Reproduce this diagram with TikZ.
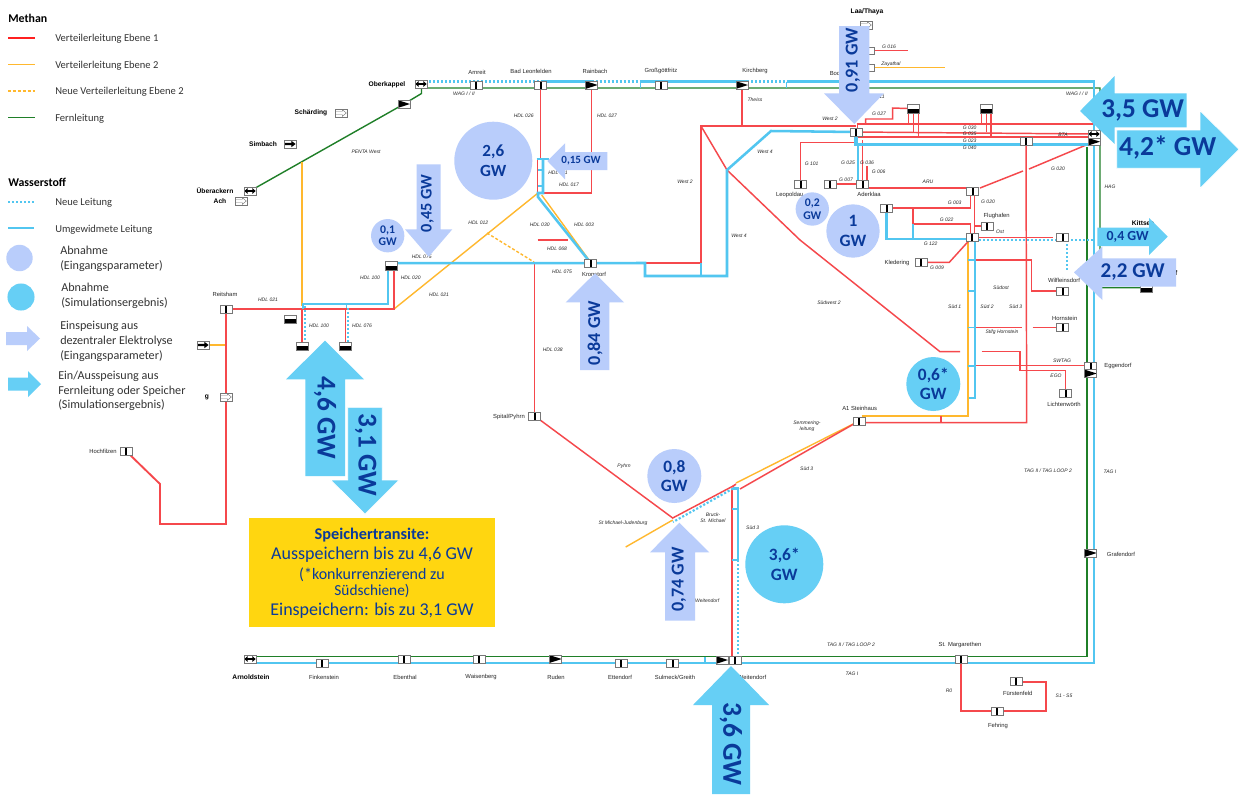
\documentclass[tikz,border=0pt]{standalone}
\usepackage{fontspec}
\setmainfont{Liberation Sans}
\newfontfamily\cbr{Carlito}
\usetikzlibrary{calc}
\definecolor{rd}{HTML}{F5484C}
\definecolor{legrd}{HTML}{FF2020}
\definecolor{yl}{HTML}{FFB82E}
\definecolor{gn}{HTML}{1F7F28}
\definecolor{bl}{HTML}{52C6F0}
\definecolor{lb}{HTML}{B9CDFB}
\definecolor{sk}{HTML}{66CFF5}
\definecolor{db}{HTML}{0A3A9A}
\definecolor{gd}{HTML}{FFD610}
\definecolor{bx}{HTML}{777777}
\pgfdeclarelayer{bg}
\pgfsetlayers{bg,main}
\newcounter{tn}
\newcommand\T[4]{\stepcounter{tn}\node[#1] (t\thetn) at (#2,#3) {#4};}
\tikzset{
 rdl/.style={draw=rd,line width=1.1pt,line join=miter},
 rdt/.style={draw=rd,line width=1.4pt},
 yll/.style={draw=yl,line width=1.05pt},
 yld/.style={draw=yl,line width=1.05pt,dash pattern=on 2.2pt off 1.5pt},
 gnl/.style={draw=gn,line width=1.05pt},
 bll/.style={draw=bl,line width=1.9pt},
 bls/.style={draw=bl,line width=1.1pt},
 bld/.style={draw=bl,line width=1.6pt,dash pattern=on 1.6pt off 1.4pt},
 box/.style={rectangle,draw=bx,line width=0.4pt,fill=white,inner sep=0pt,minimum width=9pt,minimum height=5.8pt},
 stn/.style={box,path picture={\fill[black] ($(path picture bounding box.center)+(-.7pt,-3pt)$) rectangle ++(1.4pt,6pt);}},
 half/.style={box,minimum height=6.2pt,path picture={\fill[black] (path picture bounding box.west) rectangle (path picture bounding box.south east);}},
 tri/.style={box,path picture={\fill[black] (path picture bounding box.north west) -- (path picture bounding box.east) -- (path picture bounding box.south west) -- cycle;}},
 dbl/.style={box,path picture={\fill[black,shift={(path picture bounding box.center)}] (-4.2pt,0) -- (-1.8pt,2.2pt) -- (-1.8pt,.6pt) -- (1.8pt,.6pt) -- (1.8pt,2.2pt) -- (4.2pt,0) -- (1.8pt,-2.2pt) -- (1.8pt,-.6pt) -- (-1.8pt,-.6pt) -- (-1.8pt,-2.2pt) -- cycle;}},
 arw/.style={box,path picture={\fill[black,shift={(path picture bounding box.center)}] (-4pt,.8pt) -- (1pt,.8pt) -- (1pt,2.4pt) -- (4.2pt,0) -- (1pt,-2.4pt) -- (1pt,-.8pt) -- (-4pt,-.8pt) -- cycle;}},
 hol/.style={box,path picture={\draw[bx,line width=.3pt,shift={(path picture bounding box.center)}] (-4pt,1.3pt) -- (1pt,1.3pt) -- (1pt,2.5pt) -- (4pt,0) -- (1pt,-2.5pt) -- (1pt,-1.3pt) -- (-4pt,-1.3pt);}},
 it/.style={font=\fontsize{3.75}{4.4}\selectfont\itshape,text=black!85,inner sep=0pt,align=center},
 lab/.style={font=\fontsize{4.4}{5}\selectfont,text=black!85,inner sep=0pt},
 blab/.style={font=\fontsize{5}{6}\selectfont\bfseries,inner sep=0pt},
 legt/.style={font=\cbr\fontsize{7.9}{9}\selectfont,text=black!80,anchor=west,inner sep=0pt},
 legb/.style={font=\cbr\fontsize{9.1}{11}\selectfont,text=black!80,anchor=west,inner sep=0pt,align=left},
 legh/.style={font=\cbr\bfseries\fontsize{8.9}{10}\selectfont,anchor=west,inner sep=0pt},
 gw/.style={font=\cbr\bfseries\fontsize{#1}{24}\selectfont,text=db,inner sep=0pt,align=center},
 gwc/.style 2 args={circle,inner sep=0pt,font=\cbr\bfseries\fontsize{#1}{#2}\selectfont,text=db,align=center},
 lbc/.style={fill=lb},
 skc/.style={fill=sk},
 yb/.style={font=\cbr\fontsize{#1}{24}\selectfont,text=db,inner sep=0pt},
}
\begin{document}
\begin{tikzpicture}[x=0.75pt,y=-0.75pt]
\useasboundingbox (0,0) rectangle (1239,794);

% ---------- legend
\T{legh}{8}{18}{Methan}
\T{legt}{55}{39}{Verteilerleitung Ebene 1}
\T{legt}{55}{65.5}{Verteilerleitung Ebene 2}
\T{legt}{55}{92}{Neue Verteilerleitung Ebene 2}
\T{legt}{55}{118.5}{Fernleitung}
\T{legh}{8}{182}{Wasserstoff}
\T{legt}{55}{203}{Neue Leitung}
\T{legt}{55}{229.5}{Umgewidmete Leitung}
\T{legb}{60}{258.5}{Abnahme\\(Eingangsparameter)}
\T{legb}{61}{295.5}{Abnahme\\(Simulationsergebnis)}
\T{legb}{60}{341.5}{Einspeisung aus\\dezentraler Elektrolyse\\(Eingangsparameter)}
\T{legb}{58}{391}{Ein/Ausspeisung aus\\Fernleitung oder Speicher\\(Simulationsergebnis)}
\draw[legrd,line width=.95pt] (8,38) -- (35,38);
\draw[yl,line width=.85pt] (8,64.5) -- (35,64.5);
\draw[yld] (8,91) -- (35,91);
\draw[gnl] (8,117.5) -- (35,117.5);
\draw[bld] (8,202) -- (34,202);
\draw[bl,line width=1.1pt] (8,228) -- (34,228);
\node[circle,lbc,minimum size=19.8pt,inner sep=0pt] (legc1) at (19.5,258) {};
\node[circle,skc,minimum size=20.3pt,inner sep=0pt] (legc2) at (21,297) {};
\fill[lb] (6,332) -- (27,332) -- (27,326) -- (40,338.5) -- (27,351) -- (27,345) -- (6,345) -- cycle;
\fill[sk] (8,377.5) -- (28,377.5) -- (28,371) -- (41,384) -- (28,397) -- (28,390.5) -- (8,390.5) -- cycle;

% ---------- stations
\node[dbl] (oberk) at (421,84) {};
\node[tri] (penta) at (404,104) {};
\node[hol] (schard) at (341,113) {};
\node[arw] (simb) at (290,144) {};
\node[dbl] (ueber) at (250,191) {};
\node[hol] (ach) at (241,201) {};
\node[stn] (arnr) at (476,85) {};
\node[stn] (badl) at (540.7,85) {};
\node[tri] (rain) at (591.7,85) {};
\node[stn] (gross) at (661,85) {};
\node[tri] (kirch) at (742,85) {};
\node[hol] (laa) at (866,25) {};
\node[box] (g16) at (868,50.7) {};
\node[box] (zay) at (868,67.7) {};
\node[stn] (baum) at (856,132) {};
\node[half] (h1) at (913,108.7) {};
\node[half] (h2) at (986.7,108.7) {};
\node[stn] (g40s) at (1026,141.3) {};
\node[dbl] (bte) at (1094,134) {};
\node[tri] (bts) at (1094,141.7) {};
\node[stn] (leop) at (800.7,184) {};
\node[stn] (g7) at (830,184) {};
\node[stn] (ader) at (862.7,184) {};
\node[stn] (aru) at (972.7,191) {};
\node[stn] (g3) at (886.7,208) {};
\node[stn] (flug) at (987.3,226) {};
\node[stn] (ost) at (972,237.3) {};
\node[stn] (ostr) at (1062.7,237.3) {};
\node[stn] (kled) at (921,262.3) {};
\node[stn] (wilf) at (1062.7,291) {};
\node[stn] (horn) at (1062.7,327.3) {};
\node[stn] (egg) at (1090.7,365.7) {};
\node[tri] (eggt) at (1090.7,373.5) {};
\node[stn] (lich) at (1065.7,393) {};
\node[tri] (graf) at (1090.7,553) {};
\node[half] (kitt) at (1146.7,287.7) {};
\node[stn] (a1) at (859,421) {};
\node[stn] (kron) at (590.7,263) {};
\node[half] (hdl75) at (391,265.7) {};
\node[stn] (reit) at (226,309) {};
\node[half] (hfree) at (290.5,319) {};
\node[half] (hd1) at (302,346) {};
\node[half] (hd2) at (345.3,346) {};
\node[arw] (arwg) at (203,345) {};
\node[hol] (holg) at (226,397) {};
\node[stn] (hoch) at (126,451) {};
\node[stn] (spit) at (534.7,416) {};
\node[dbl] (arnold) at (250,659) {};
\node[stn] (fink) at (322,663) {};
\node[stn] (eben) at (404,659) {};
\node[stn] (wais) at (479,659) {};
\node[tri] (rude) at (555.7,659) {};
\node[stn] (ette) at (621,663) {};
\node[stn] (sulm) at (672.7,663) {};
\node[tri] (weit) at (722,660) {};
\node[stn] (weis) at (735,660) {};
\node[stn] (marg) at (961,659.5) {};
\node[stn] (fuer) at (1016.3,681.6) {};
\node[stn] (fehr) at (997,711) {};

% ---------- junctions
\coordinate (jW) at (701,126);
\coordinate (jX) at (727,170);
\coordinate (jH) at (394,309);
\coordinate (jY) at (302,162);
\coordinate (jL) at (538,193);
\coordinate (jP) at (672.7,518);
\coordinate (jM) at (1087,147);

\begin{pgfonlayer}{bg}
\fill[white] (0,0) rectangle (1239,794);
% green
\draw[gnl] (ueber.center) -- (penta.center) -- (421.5,93.5) -- (421.5,88) -- (1100,88) -- (1100,287.7) -- (kitt.center);
\draw[gnl] (jM) -- (1087,656.5) -- (250,656.5);
% yellow
\draw[yll] (jY) -- (302,306);
\draw[yll] (jH) -- (jL);
\draw[yld] (487,233) -- (534,262);
\draw[yll] (arwg.center) -- (226,345);
\draw[yll] (541.7,195) -- (589,260);
\draw[yll] (625.7,547) -- (672.7,520);
\draw[yll] (736,483) -- (a1.center);
\draw[yl,line width=1.4pt] (861.7,416) -- (967.7,416) -- (967.7,239);
\draw[yl,line width=1.4pt] (967.7,239) -- (ost.center);
\draw[yll] (zay.center) -- (945,67.7);
% red, west
\draw[rdl] (reit.center) -- (jH) -- (394,266);
\draw[rdt] (reit.center) -- (226,524) -- (160,524) -- (160,484) -- (hoch.center);
\draw[rdl] (302,309) -- (hd1.center);
\draw[rdl] (345.3,309) -- (hd2.center);
\draw[rdl] (badl.center) -- (540.7,159) -- (537.7,159) -- (537.7,193);
\draw[rdl] (537.7,159) -- (546,159);
\draw[rdl] (543,193) -- (591.7,193) -- (rain.center);
\draw[rdl] (537.7,240) -- (567.7,240);
\draw[rdl] (534.7,263) -- (spit.center);
\draw[rdl] (spit.center) -- (jP) -- (735,485);
\draw[rdl] (740,489) -- (a1.center);
\draw[rdl] (646,263) -- (701,263) -- (jW) -- (856,126);
\draw[rdl] (kirch.center) -- (742,126);
\draw[rdl] (jW) -- (jX) -- (800,240) -- (940,351.7) -- (960,351.7);
\draw[rdl] (981.7,351.7) -- (1020,351.7) -- (1020,370.3) -- (1065.7,370.3) -- (lich.center);
% red, Baumgarten
\draw[rdl] (856.7,124) -- (1093,124);
\draw[rdl] (baum.center) -- (bte.center);
\draw[rdl] (baum.center) ++(0,5) -- (1090,137);
\draw[rdl] (857.7,124) -- (857.7,132);
\draw[rdl] (865.7,124) -- (865.7,119) -- (892.7,119) -- (892.7,108) -- (h1.center);
\foreach \x/\y in {908.3/124,913.3/131.7,918.3/137,981.7/124,986.7/131.7,991/137} \draw[rdl] (\x,108) -- (\x,\y);
\draw[rdl] (855,142.7) -- (800.7,142.7) -- (leop.center);
\draw[rdl] (862.7,140) -- (ader.center);
\draw[rdl] (867,166) -- (867,184);
\draw[rdl] (g7.center) -- (ader.center);
\draw[rdl] (862.7,188) -- (972.7,188);
\draw[rdl] (bts.center) -- (1029,169);
\draw[rdl] (1023,171) -- (980,188);
\draw[rdl] (970.7,191) -- (970.7,207);
\draw[rdl] (974.7,191) -- (974.7,237);
\draw[rdl] (g3.center) -- (970.7,208);
\draw[rdl] (913,208) -- (913,224) -- (970.7,224) -- (970.7,237);
\draw[rdl] (974.7,226) -- (flug.center);
\draw[rdl] (kled.center) -- (949.3,262.3) -- (ost.center);
\draw[rdl] (ost.center) -- (1053,237.3);
\draw[rdl] (975,260) -- (1031.7,260) -- (1031.7,291) -- (wilf.center);
\draw[rdl] (975,327.3) -- (1021.7,327.3);
\draw[rdl] (1032.7,327.3) -- (horn.center);
\draw[rdl] (975,365.7) -- (egg.center);
\draw[rdl] (a1.center) ++(0,1.7) -- (1026.7,422.7) -- (g40s.center);
\draw[rdl] (941,416) -- (941,423);
\draw[rdl] (g16.center) -- (908,50.7);
\draw[rdl] (732,489) -- (732,660);
\draw[rdl] (732,487) -- (736,484);
% red, south
\draw[rdt] (marg.center) -- (961,711) -- (fehr.center) -- (1045.7,711) -- (1045.7,681.6) -- (fuer.center);
% blue
\draw[bld] (oberk.center) ++(0,-2.5) -- (540.7,81.5);
\draw[bll] (540.7,81.5) -- (591.7,81.5);
\draw[bld] (591.7,81.5) -- (640.7,81.5);
\draw[bll] (640.7,81.5) -- (747,81.5);
\draw[bld] (747,81.5) -- (786.7,81.5);
\draw[bll] (786.7,81.5) -- (1094,81.5) -- (1094,663) -- (250,663);
\draw[bls] (640.7,81.5) -- (640.7,88);
\draw[bls] (786.7,81.5) -- (786.7,88);
\draw[bll] (303,309) -- (303,304) -- (388,304) -- (388,266);
\draw[bld] (305,306) -- (305,343);
\draw[bls] (346.7,304) -- (346.7,308);
\draw[bld] (347.7,308) -- (347.7,343);
\draw[bll] (hdl75.center) ++(0,-2.5) -- (645,263) -- (645,276) -- (727,276) -- (jX) -- (771,131) -- (baum.center);
\draw[bls] (701,263) -- (701,276);
\draw[bls] (536.5,159) -- (549,159);
\draw[bll] (543,159) -- (543,193) -- (538,193) -- (538,197) -- (kron.center);
\draw[bls] (537.7,170) -- (543,170);
\draw[bls] (537.7,186) -- (543,186);
\draw[bll] (855,144.3) -- (1094,144.3);
\draw[bl,line width=3.4pt] (856,136) -- (856,146);
\draw[bll] (858,144) -- (858,184);
\draw[bll] (g3.center) -- (886.7,239) -- (972,239);
\draw[bll] (913,224) -- (913,239);
\draw[bll] (975,238) -- (975,398) -- (969,398);
\foreach \y in {260,291,327.3,366} \draw[bls] (968,\y) -- (975,\y);
\draw[bld] (975,240.3) -- (1093,240.3);
\draw[bld] (1066.7,240.3) -- (1066.7,271.7);
\draw[bll] (733,488.5) -- (738,488.5) -- (738,560);
\draw[bls] (732,509) -- (738,509);
\draw[bls] (732,560) -- (738,560);
\draw[bld] (738,560) -- (738,655);
\draw[bld] (733,488.5) -- (673,522);
\draw[bls] (705,656.5) -- (705,663);
\end{pgfonlayer}

% ---------- labels
\T{blab}{387}{85}{Oberkappel}
\T{blab}{311}{113}{Schärding}
\T{blab}{263}{144}{Simbach}
\T{blab}{215}{190.5}{Überackern}
\T{blab}{220}{201.5}{Ach}
\T{blab}{207}{397.5}{g}
\T{blab}{251}{677}{Arnoldstein}
\T{blab}{867}{12}{Laa/Thaya}
\T{blab}{1143}{223}{Kittsee}
\T{blab}{1175}{273}{rf}
\T{lab}{477}{72}{Arnreit}
\T{lab}{531}{71}{Bad Leonfelden}
\T{lab}{595}{71}{Rainbach}
\T{lab}{661}{71}{Großgöttfritz}
\T{lab}{755}{71}{Kirchberg}
\T{lab}{835}{73}{Bod}
\T{lab}{225}{294}{Reitsham}
\T{lab}{594}{274.7}{Kronstorf}
\T{lab}{509}{417}{Spital/Pyhrn}
\T{lab}{103}{451}{Hochfilzen}
\T{lab}{789.7}{194.7}{Leopoldau}
\T{lab}{869}{194}{Aderklaa}
\T{lab}{996.7}{216}{Flughafen}
\T{lab}{897}{263}{Kledering}
\T{lab}{1064}{280.7}{Wilfleinsdorf}
\T{lab}{1064.7}{318}{Hornstein}
\T{lab}{1118}{366}{Eggendorf}
\T{lab}{1064}{404}{Lichtenwörth}
\T{lab}{1121}{554}{Grafendorf}
\T{lab}{859.7}{408}{A1 Steinhaus}
\T{lab}{960}{645}{St. Margarethen}
\T{lab}{1017.7}{693}{Fürstenfeld}
\T{lab}{998}{725.7}{Fehring}
\T{lab}{324}{677}{Finkenstein}
\T{lab}{405}{677}{Ebenthal}
\T{lab}{481}{677}{Waisenberg}
\T{lab}{556}{677}{Ruden}
\T{lab}{620}{677}{Ettendorf}
\T{lab}{675}{677}{Sulmeck/Greith}
\T{lab}{752}{677}{Weitendorf}
\T{it}{366}{152}{PENTA West}
\T{it}{268}{300}{HDL 021}
\T{it}{319}{326}{HDL 100}
\T{it}{362}{326}{HDL 076}
\T{it}{370}{277.7}{HDL 100}
\T{it}{410.7}{277.7}{HDL 020}
\T{it}{439}{294.7}{HDL 021}
\T{it}{421.7}{257}{HDL 075}
\T{it}{464}{94}{WAG I / II}
\T{it}{523.7}{116}{HDL 026}
\T{it}{607}{116}{HDL 027}
\T{it}{569}{184.7}{HDL 017}
\T{it}{558}{173}{HDL 011}
\T{it}{478.3}{223}{HDL 012}
\T{it}{539.7}{225}{HDL 030}
\T{it}{584}{225}{HDL 003}
\T{it}{557}{248.7}{HDL 068}
\T{it}{562}{272}{HDL 075}
\T{it}{552.7}{350}{HDL 038}
\T{it}{685}{182}{West 2}
\T{it}{739}{236}{West 4}
\T{it}{765}{152}{West 4}
\T{it}{755}{100}{Theiss}
\T{it}{830}{119}{West 2}
\T{it}{889}{47}{G 016}
\T{it}{891}{64}{Zayathal}
\T{it}{879}{114}{G 027}
\T{it}{878}{97}{G 011}
\T{it}{969.7}{128}{G 030}
\T{it}{969.7}{134}{G 035}
\T{it}{969.7}{141}{G 023}
\T{it}{969.7}{148}{G 040}
\T{it}{1063}{135}{BTA}
\T{it}{1077}{94}{WAG I / II}
\T{it}{811.7}{164}{G 101}
\T{it}{848}{163}{G 025}
\T{it}{867}{162.7}{G 036}
\T{it}{878.7}{172}{G 006}
\T{it}{846}{179.7}{G 007}
\T{it}{928}{182}{ARU}
\T{it}{1058}{169}{G 020}
\T{it}{988}{202}{G 020}
\T{it}{954.7}{202.7}{G 003}
\T{it}{946.7}{219.7}{G 022}
\T{it}{1000}{232}{Ost}
\T{it}{930.7}{243.7}{G 122}
\T{it}{937}{267.7}{G 009}
\T{it}{1110}{187}{HAG}
\T{it}{1001}{287.5}{Südost}
\T{it}{954.7}{307}{Süd 1}
\T{it}{987}{307}{Süd 2}
\T{it}{1015.7}{307}{Süd 3}
\T{it}{1002}{332}{Stifg Hornstein}
\T{it}{1062}{361}{SWTAG}
\T{it}{1056}{376}{EGO}
\T{it}{829}{303}{Südwest 2}
\T{it}{807}{426}{Semmering-\\leitung}
\T{it}{806.7}{468.7}{Süd 3}
\T{it}{624}{465.7}{Pyhrn}
\T{it}{623}{523}{St Michael-Judenburg}
\T{it}{713}{518}{Bruck-\\St. Michael}
\T{it}{752.7}{527.7}{Süd 3}
\T{it}{700}{601}{Bruck-Weitendorf}
\T{it}{851}{645}{TAG II / TAG LOOP 2}
\T{it}{852}{674}{TAG I}
\T{it}{1048}{471}{TAG II / TAG LOOP 2}
\T{it}{1110}{472}{TAG I}
\T{it}{949}{691}{R0}
\T{it}{1064}{695.7}{S1 - S5}

% ---------- big arrows
\fill[sk] (1097.3,227.7) -- (1149,227.7) -- (1149,218) -- (1167.7,236.7) -- (1149,255) -- (1149,246) -- (1097.3,246) -- cycle;
\fill[lb] (1074,272.3) -- (1102.3,246.7) -- (1102.3,258.3) -- (1176,258.3) -- (1176,286.7) -- (1102.3,286.7) -- (1102.3,300) -- cycle;
\fill[lb] (839,26) -- (869.3,26) -- (869.3,93.3) -- (884,93.3) -- (854.3,124) -- (824,93.3) -- (839,93.3) -- cycle;
\fill[sk] (1080,111) -- (1114.7,76) -- (1114.7,93.3) -- (1186.7,93.3) -- (1186.7,127.3) -- (1114.7,127.3) -- (1114.7,144) -- cycle;
\filldraw[fill=sk,draw=white,line width=.5pt] (1116.7,130) -- (1200,130) -- (1200,110.7) -- (1239,149.3) -- (1200,188.3) -- (1200,168.3) -- (1116.7,168.3) -- cycle;
\fill[lb] (547.3,161) -- (565,143.3) -- (565,152) -- (607.3,152) -- (607.3,170) -- (565,170) -- (565,179.3) -- cycle;
\fill[lb] (416.7,164.3) -- (440.7,164.3) -- (440.7,229.3) -- (452.3,229.3) -- (428.7,256.7) -- (405,229.3) -- (416.7,229.3) -- cycle;
\fill[lb] (595,273.3) -- (624,302.3) -- (609.3,302.3) -- (609.3,370) -- (580,370) -- (580,302.3) -- (565.7,302.3) -- cycle;
\fill[sk] (325,340.7) -- (364,379.3) -- (345,379.3) -- (345,476) -- (305.3,476) -- (305.3,379.3) -- (286,379.3) -- cycle;
\filldraw[fill=sk,draw=white,line width=.5pt] (347.7,407.3) -- (382.3,407.3) -- (382.3,480) -- (399,480) -- (365,514) -- (330.7,480) -- (347.7,480) -- cycle;
\fill[lb] (679.3,522.7) -- (709.3,552.3) -- (695,552.3) -- (695,620.7) -- (665,620.7) -- (665,552.3) -- (650,552.3) -- cycle;
\fill[sk] (731,666) -- (769,705) -- (750,705) -- (750,794) -- (712,794) -- (712,705) -- (693,705) -- cycle;

% ---------- circles
\node[gwc={12.8}{14.5},lbc,minimum size=58.5pt] (c26) at (493.3,160.7) {2,6\\GW};
\node[gwc={8.8}{9.6},lbc,minimum size=25pt] (c01) at (387.7,235.7) {0,1\\GW};
\node[gwc={8.8}{9.6},lbc,minimum size=25pt] (c02) at (812.3,209) {0,2\\GW};
\node[gwc={13}{14.5},lbc,minimum size=40pt] (c1) at (853,231) {1\\GW};
\node[gwc={13}{14.5},skc,minimum size=40.5pt] (c06) at (933.3,384) {0,6*\\GW};
\node[gwc={13}{14.5},lbc,minimum size=40.5pt] (c08) at (674.3,476) {0,8\\GW};
\node[gwc={13}{14.5},skc,minimum size=58.5pt] (c36) at (784.3,564.3) {3,6*\\GW};

% ---------- arrow texts
\node[gw=13.6,rotate=90] (a091) at (853,60) {0,91 GW};
\node[gw=20.4] (a35) at (1142.7,110) {3,5 GW};
\node[gw=20.6] (a42) at (1167.7,148) {4,2* GW};
\node[gw=10.4] (a04) at (1127.7,236.5) {0,4 GW};
\node[gw=15.8] (a22) at (1132.7,272) {2,2 GW};
\node[gw=8.3] (a015) at (581,161) {0,15 GW};
\node[gw=12.2,rotate=90] (a045) at (427.3,203.3) {0,45 GW};
\node[gw=13.6,rotate=90] (a084) at (595,333) {0,84 GW};
\node[gw=20.4,rotate=-90] (a46) at (325,418) {4,6 GW};
\node[gw=20.4,rotate=-90] (a31) at (365.7,454.7) {3,1 GW};
\node[gw=13.6,rotate=90] (a074) at (679,579.3) {0,74 GW};
\node[gw=20.6,rotate=-90] (a36) at (731,744) {3,6 GW};

% ---------- yellow box
\fill[gd] (249,518) rectangle (495,627);
\node[yb=12.2,font=\cbr\bfseries\fontsize{12.2}{14}\selectfont] (y1) at (372,535.5) {Speichertransite:};
\node[yb=13.5] (y2) at (372,555) {Ausspeichern bis zu 4,6 GW};
\node[yb=12] (y3) at (372,575) {(*konkurrenzierend zu};
\node[yb=11.5] (y4) at (372,591) {Südschiene)};
\node[yb=13.5] (y5) at (372,611) {Einspeichern: bis zu 3,1 GW};
\end{tikzpicture}
\end{document}
